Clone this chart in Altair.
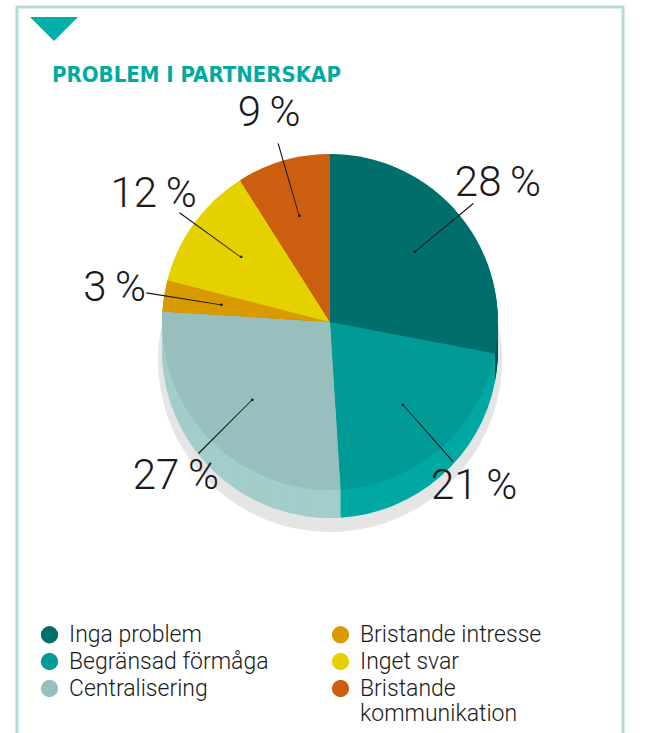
import altair as alt
import pandas as pd

categories = ["Inga problem", "Begränsad förmåga", "Centralisering",
              "Bristande intresse", "Inget svar", "Bristande kommunikation"]
values = [28, 21, 27, 3, 12, 9]
top_colors = ["#006e6a", "#009b96", "#96bfbd", "#d99a00", "#e5d000", "#cc5e10"]
side_colors = ["#005b57", "#00a8a3", "#a3cdca", "#c08800", "#ccb800", "#b35000"]

df = pd.DataFrame({
    "category": categories,
    "value": values,
    "order": list(range(len(categories))),
    "label": [f"{v}\u2009%" for v in values],
})

W, H = 606, 730
CX, CY = 313, 315
R = 168
DEPTH = 28

theta_scale = alt.Scale(domain=[0, 100], range=[0, 6.283185307179586])

base = alt.Chart(df).transform_window(
    cum="sum(value)", sort=[alt.SortField("order")], frame=[None, 0]
).transform_calculate(
    start="datum.cum - datum.value",
    end="datum.cum",
    mid="datum.cum - datum.value / 2",
    l1="datum.cum - datum.value / 2 - 0.05",
    l2="datum.cum - datum.value / 2 + 0.05",
)

layers = []
# shadow
layers.append(
    base.mark_arc(color="#000000", opacity=0.10, radius=R + 4).encode(
        theta=alt.Theta("start:Q", scale=theta_scale, stack=None),
        theta2="end:Q",
        x=alt.value(CX), y=alt.value(CY + DEPTH + 10),
    )
)
# side of the 3D pie
for k in range(DEPTH, 0, -2):
    layers.append(
        base.mark_arc(radius=R).encode(
            theta=alt.Theta("start:Q", scale=theta_scale, stack=None),
            theta2="end:Q",
            color=alt.Color("category:N", scale=alt.Scale(domain=categories, range=side_colors), legend=None),
            x=alt.value(CX), y=alt.value(CY + k),
        )
    )
# top of the pie
layers.append(
    base.mark_arc(radius=R).encode(
        theta=alt.Theta("start:Q", scale=theta_scale, stack=None),
        theta2="end:Q",
        color=alt.Color(
            "category:N",
            scale=alt.Scale(domain=categories, range=top_colors),
            legend=alt.Legend(
                title=None, orient="none", legendX=21, legendY=616, columns=2,
                columnPadding=60, rowPadding=3, symbolType="circle", symbolSize=300,
                symbolStrokeWidth=0, labelFontSize=23, labelFont="Roboto",
                labelFontWeight=300, labelColor="#1a1a1a", symbolOffset=0,
                labelOffset=8, labelLimit=300,
                labelExpr="datum.label == 'Bristande kommunikation' ? ['Bristande', 'kommunikation'] : datum.label",
            ),
        ),
        x=alt.value(CX), y=alt.value(CY),
    )
)
# leader lines
layers.append(
    base.mark_arc(color="#111111", radius=186, radius2=110).encode(
        theta=alt.Theta("l1:Q", scale=theta_scale, stack=None),
        theta2="l2:Q",
        x=alt.value(CX), y=alt.value(CY),
    )
)
# dots
layers.append(
    base.mark_text(text="•", fontSize=9, color="#111111", radius=110, baseline="middle").encode(
        theta=alt.Theta("mid:Q", scale=theta_scale, stack=None),
        x=alt.value(CX), y=alt.value(CY),
    )
)
# percentage labels
layers.append(
    base.mark_text(fontSize=42, font="Roboto", fontWeight=300, color="#1a1a1a",
                   radius=218, baseline="middle", align="center").encode(
        theta=alt.Theta("mid:Q", scale=theta_scale, stack=None),
        text="label:N",
        x=alt.value(CX), y=alt.value(CY),
    )
)

decor = pd.DataFrame({"a": [0]})
triangle = alt.Chart(decor).mark_point(
    shape="M-1,-0.5L1,-0.5L0,0.5Z", filled=True, size=2304, color="#00b0a8", opacity=1
).encode(x=alt.value(37), y=alt.value(22))
title = alt.Chart(decor).mark_text(
    text="PROBLEM I PARTNERSKAP", align="left", baseline="alphabetic", fontSize=22,
    font="'DejaVu Sans Condensed', 'Roboto', sans-serif", fontWeight="bold", color="#00aaa0"
).encode(x=alt.value(35), y=alt.value(75))

chart = alt.layer(triangle, title, *layers).resolve_scale(color="independent").properties(
    width=W, height=H,
    padding={"left": 17, "top": 7, "right": 38, "bottom": 0},
    autosize=alt.AutoSizeParams(type="none"),
).configure_view(stroke="#b3dcd9", strokeWidth=3)

chart.save("out.html", embed_options={"renderer": "svg", "actions": False})
